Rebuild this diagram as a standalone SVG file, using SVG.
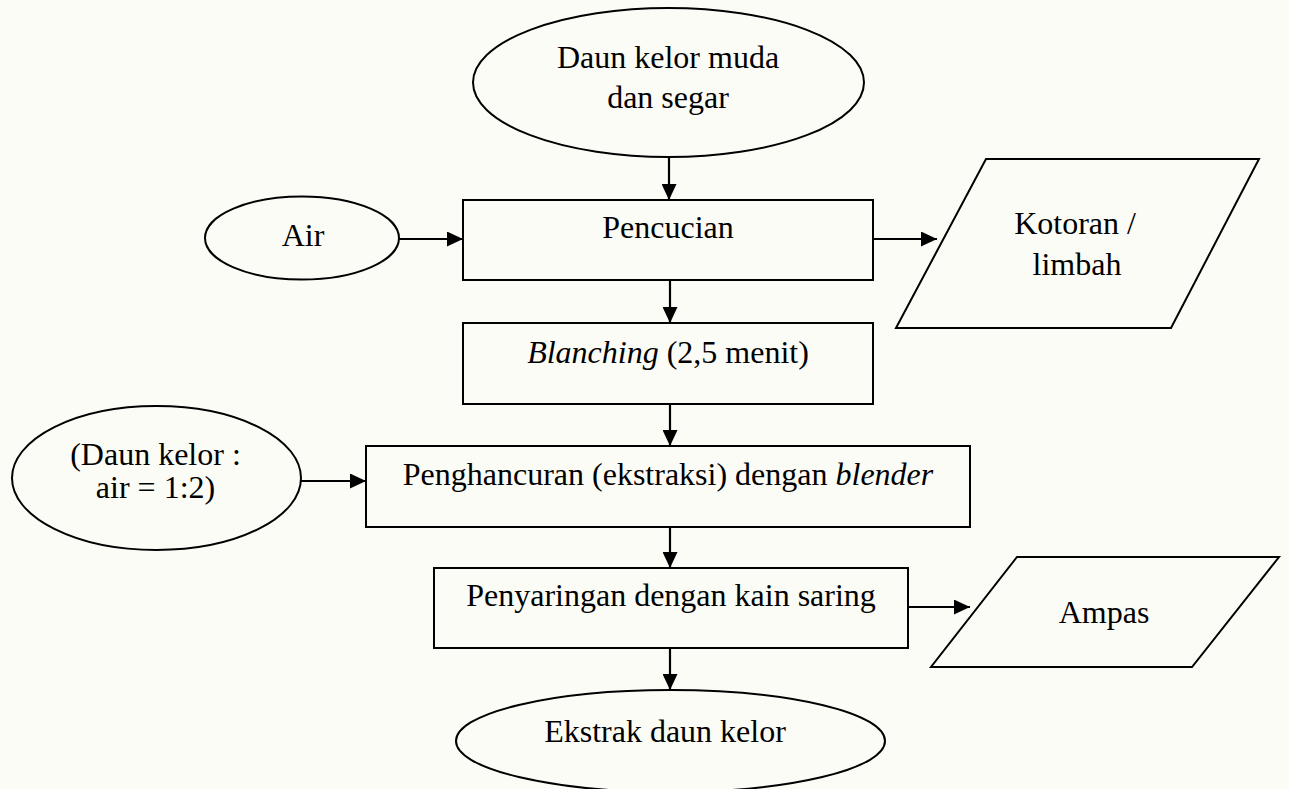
<svg xmlns="http://www.w3.org/2000/svg" width="1289" height="789" viewBox="0 0 1289 789">
<defs>
<marker id="arr" viewBox="0 0 16 15" refX="16" refY="7.5" markerWidth="16" markerHeight="15" markerUnits="userSpaceOnUse" orient="auto">
<path d="M0,0 L16,7.5 L0,15 Z" fill="#000"/>
</marker>
<style>
.s{fill:none;stroke:#000;stroke-width:2}
.t{font-family:"Liberation Serif","Times New Roman",serif;font-size:32px;fill:#000;text-anchor:middle}
.c{stroke:#000;stroke-width:2.2;fill:none;marker-end:url(#arr)}
</style>
</defs>
<rect x="0" y="0" width="1289" height="789" fill="#fcfcf7"/>
<g id="start">
<ellipse class="s" cx="668.5" cy="82.5" rx="195.5" ry="74.5"/>
<text class="t" x="668" y="68">Daun kelor muda</text>
<text class="t" x="668" y="108">dan segar</text>
</g>
<g id="air">
<ellipse class="s" cx="302" cy="238" rx="97" ry="41.5"/>
<text class="t" x="303" y="246">Air</text>
</g>
<g id="pencucian">
<rect class="s" x="463" y="200" width="410" height="80"/>
<text class="t" x="668" y="238">Pencucian</text>
</g>
<g id="kotoran">
<polygon class="s" points="986,159 1259,159 1171,328 896,328"/>
<text class="t" x="1075" y="234">Kotoran /</text>
<text class="t" x="1077" y="275">limbah</text>
</g>
<g id="blanching">
<rect class="s" x="463" y="323" width="410" height="81"/>
<text class="t" x="668" y="363"><tspan font-style="italic">Blanching</tspan> (2,5 menit)</text>
</g>
<g id="ratio">
<ellipse class="s" cx="156.5" cy="478" rx="144.5" ry="72"/>
<text class="t" x="155.5" y="465">(Daun kelor :</text>
<text class="t" x="155.5" y="498">air = 1:2)</text>
</g>
<g id="penghancuran">
<rect class="s" x="366" y="446" width="604" height="81"/>
<text class="t" x="668" y="485">Penghancuran (ekstraksi) dengan <tspan font-style="italic">blender</tspan></text>
</g>
<g id="penyaringan">
<rect class="s" x="434" y="568" width="474" height="80"/>
<text class="t" x="671" y="606">Penyaringan dengan kain saring</text>
</g>
<g id="ampas">
<polygon class="s" points="1017,557 1279,557 1192,667 931,667"/>
<text class="t" x="1104" y="623">Ampas</text>
</g>
<g id="ekstrak">
<ellipse class="s" cx="670.5" cy="741" rx="214.5" ry="51"/>
<text class="t" x="665" y="742">Ekstrak daun kelor</text>
</g>
<g id="connectors">
<line class="c" x1="669" y1="157" x2="669" y2="200"/>
<line class="c" x1="399" y1="239" x2="463" y2="239"/>
<line class="c" x1="873" y1="239" x2="937" y2="239"/>
<line class="c" x1="670" y1="280" x2="670" y2="323"/>
<line class="c" x1="670" y1="404" x2="670" y2="446"/>
<line class="c" x1="301" y1="481" x2="366" y2="481"/>
<line class="c" x1="670" y1="527" x2="670" y2="568"/>
<line class="c" x1="908" y1="607" x2="970" y2="607"/>
<line class="c" x1="670" y1="648" x2="670" y2="690"/>
</g>
</svg>
